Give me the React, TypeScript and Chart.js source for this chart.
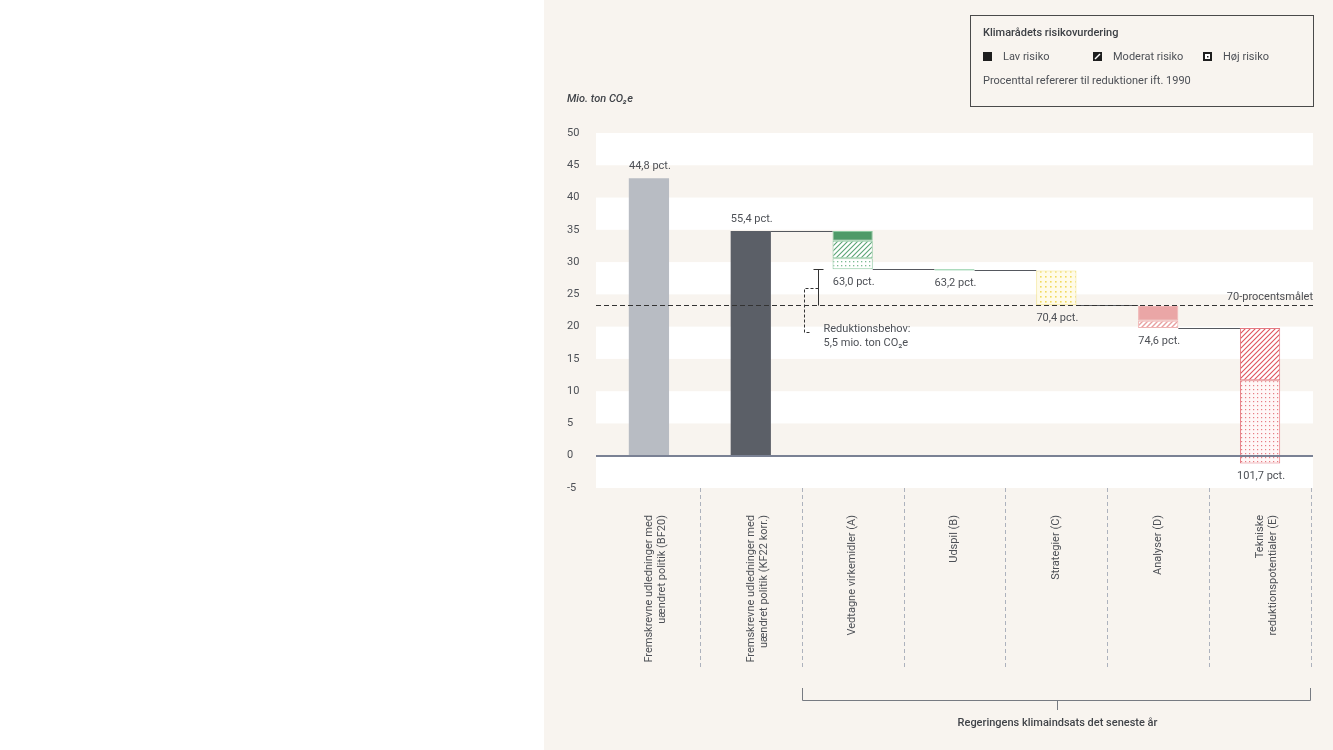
import React, { useEffect, useRef } from "react";
import { Chart, registerables } from "chart.js";

Chart.register(...registerables);

const categories: (string | string[])[] = [
  ["Fremskrevne udledninger med", "uændret politik (BF20)"],
  ["Fremskrevne udledninger med", "uændret politik (KF22 korr.)"],
  "Vedtagne virkemidler (A)",
  "Udspil (B)",
  "Strategier (C)",
  "Analyser (D)",
  ["Tekniske", "reduktionspotentialer (E)"],
];

// Projected emissions (baseline bars)
const baselineValues: (number | null)[] = [43.0, 34.8, null, null, null, null, null];
// Reduction segments [low, high] by risk level
const lowRisk: ([number, number] | null)[] = [null, null, [33.3, 34.8], [28.7, 28.9], null, [20.9, 23.2], null];
const moderateRisk: ([number, number] | null)[] = [null, null, [30.6, 33.3], null, null, [19.8, 20.9], [11.7, 19.8]];
const highRisk: ([number, number] | null)[] = [null, null, [28.9, 30.6], null, [23.3, 28.7], null, [-1.2, 11.7]];

const pctLabels = ["44,8 pct.", "55,4 pct.", "63,0 pct.", "63,2 pct.", "70,4 pct.", "74,6 pct.", "101,7 pct."];
const target70 = 23.4;
const targetLabel = "70-procentsmålet";
const reductionLabel = ["Reduktionsbehov:", "5,5 mio. ton CO₂e"];
const yMin = -5;
const yMax = 50;
const yStep = 5;
const yTitle = "Mio. ton CO₂e";
const bracketLabel = "Regeringens klimaindsats det seneste år";
const legendTitle = "Klimarådets risikovurdering";
const legendItems = ["Lav risiko", "Moderat risiko", "Høj risiko"];
const legendNote = "Procenttal refererer til reduktioner ift. 1990";

const FONT = "Roboto, 'Noto Sans', sans-serif";
const BAR_PCT = 0.395;
const TEXT = "#4d5056";

function hatch(bg: string, fg: string, size = 5, lw = 1.1) {
  const c = document.createElement("canvas");
  c.width = size;
  c.height = size;
  const g = c.getContext("2d")!;
  g.fillStyle = bg;
  g.fillRect(0, 0, size, size);
  g.strokeStyle = fg;
  g.lineWidth = lw;
  g.beginPath();
  g.moveTo(0, size);
  g.lineTo(size, 0);
  g.moveTo(-1, 1);
  g.lineTo(1, -1);
  g.moveTo(size - 1, size + 1);
  g.lineTo(size + 1, size - 1);
  g.stroke();
  return g.createPattern(c, "repeat")!;
}

function dots(bg: string, fg: string, size = 4, r = 1.3) {
  const c = document.createElement("canvas");
  c.width = size;
  c.height = size;
  const g = c.getContext("2d")!;
  g.fillStyle = bg;
  g.fillRect(0, 0, size, size);
  g.fillStyle = fg;
  g.fillRect(1, 1, r, r);
  return g.createPattern(c, "repeat")!;
}

function rangeOf(i: number): [number, number] {
  const vals: number[] = [];
  if (baselineValues[i] != null) vals.push(0, baselineValues[i] as number);
  [lowRisk, moderateRisk, highRisk].forEach((s) => {
    const v = s[i];
    if (v) vals.push(v[0], v[1]);
  });
  return [Math.min(...vals), Math.max(...vals)];
}

export default function App() {
  const ref = useRef<HTMLCanvasElement | null>(null);

  useEffect(() => {
    if (!ref.current) return;

    const green = "#4f9a68";
    const lowColors = [null, null, green, "#6cc08a", null, "#eaa6a6", null];
    const lowBorders = [null, null, "#8cc9a0", "#6cc08a", null, "#efb3b3", null];
    const modColors = [null, null, hatch("#ffffff", "#5aa474"), null, null, hatch("#ffffff", "#e9a0a0", 5, 1.4), hatch("#ffffff", "#e0525c")];
    const modBorders = [null, null, "#8cc9a0", null, null, "#efb3b3", "#e47a82"];
    const highColors = [null, null, dots("#ffffff", "#7cbb92"), null, dots("#fffbe8", "#f0da5c", 5, 1.6), null, dots("#fff7f7", "#e77c84", 4, 1.2)];
    const highBorders = [null, null, "#8cc9a0", null, "#f3e48a", null, "#e47a82"];

    const bandsPlugin = {
      id: "bands",
      beforeDraw(chart: any) {
        const { ctx, chartArea, scales } = chart;
        const y = scales.y;
        ctx.save();
        ctx.fillStyle = "#ffffff";
        let k = 0;
        for (let v = yMax; v > yMin; v -= yStep) {
          if (k % 2 === 0) {
            const t = y.getPixelForValue(v);
            const b = y.getPixelForValue(v - yStep);
            ctx.fillRect(chartArea.left - 2, t, chartArea.right - chartArea.left + 4, b - t);
          }
          k++;
        }
        ctx.restore();
      },
    };

    const overlayPlugin = {
      id: "overlay",
      afterDatasetsDraw(chart: any) {
        const { ctx, chartArea, scales } = chart;
        const x = scales.x;
        const y = scales.y;
        const catW = x.getPixelForValue(1) - x.getPixelForValue(0);
        const halfBar = (catW * BAR_PCT) / 2;
        const L = chartArea.left - 2;
        const R = chartArea.right + 2;
        ctx.save();

        // zero line
        ctx.strokeStyle = "#7a8194";
        ctx.lineWidth = 2;
        ctx.beginPath();
        ctx.moveTo(L, Math.round(y.getPixelForValue(0)));
        ctx.lineTo(R, Math.round(y.getPixelForValue(0)));
        ctx.stroke();

        // connectors
        ctx.strokeStyle = "#55585e";
        ctx.lineWidth = 1;
        for (let i = 1; i < categories.length - 1; i++) {
          const [lo, hi] = rangeOf(i);
          const level = baselineValues[i] != null ? hi : lo;
          const py = Math.round(y.getPixelForValue(level)) + 0.5;
          ctx.beginPath();
          ctx.moveTo(x.getPixelForValue(i) + halfBar, py);
          ctx.lineTo(x.getPixelForValue(i + 1) - halfBar, py);
          ctx.stroke();
        }

        // 70% target line
        const ty = Math.round(y.getPixelForValue(target70)) + 0.5;
        ctx.strokeStyle = "#333333";
        ctx.setLineDash([5, 3]);
        ctx.beginPath();
        ctx.moveTo(L, ty);
        ctx.lineTo(R, ty);
        ctx.stroke();
        ctx.setLineDash([]);
        ctx.font = `11px ${FONT}`;
        ctx.fillStyle = TEXT;
        ctx.textAlign = "right";
        ctx.textBaseline = "middle";
        ctx.fillText(targetLabel, R, ty - 8);

        // reduction need bracket (category A bottom to target)
        const aBottom = rangeOf(2)[0];
        const capX = Math.round(x.getPixelForValue(2) - halfBar - 15) + 0.5;
        const topY = Math.round(y.getPixelForValue(aBottom)) + 0.5;
        ctx.strokeStyle = "#333333";
        ctx.beginPath();
        ctx.moveTo(capX - 5, topY);
        ctx.lineTo(capX + 5, topY);
        ctx.moveTo(capX, topY);
        ctx.lineTo(capX, ty);
        ctx.stroke();
        const midY = Math.round((topY + ty) / 2) + 0.5;
        const bx = capX - 14;
        const labY = ty + 24;
        ctx.setLineDash([3, 2]);
        ctx.beginPath();
        ctx.moveTo(capX, midY);
        ctx.lineTo(bx, midY);
        ctx.lineTo(bx, labY + 3);
        ctx.lineTo(bx + 6, labY + 3);
        ctx.stroke();
        ctx.setLineDash([]);
        ctx.textAlign = "left";
        ctx.fillText(reductionLabel[0], bx + 19, labY);
        ctx.fillText(reductionLabel[1], bx + 19, labY + 14);

        // percentage labels
        ctx.textAlign = "center";
        for (let i = 0; i < categories.length; i++) {
          const [lo, hi] = rangeOf(i);
          const above = baselineValues[i] != null;
          const py = above ? y.getPixelForValue(hi) - 12 : y.getPixelForValue(lo) + 13;
          ctx.fillText(pctLabels[i], x.getPixelForValue(i) + 1, py);
        }

        // dividers below axis
        ctx.strokeStyle = "#adb2bd";
        ctx.setLineDash([4, 3]);
        for (let i = 0; i < categories.length; i++) {
          const dx = Math.round(x.getPixelForValue(i) + catW / 2) + 0.5;
          ctx.beginPath();
          ctx.moveTo(dx, chartArea.bottom);
          ctx.lineTo(dx, 670);
          ctx.stroke();
        }
        ctx.setLineDash([]);

        // bottom bracket over categories A-E
        const bl = Math.round(x.getPixelForValue(2) - catW / 2) + 0.5;
        const br = Math.round(x.getPixelForValue(6) + catW / 2) - 0.5;
        ctx.strokeStyle = "#777b82";
        ctx.beginPath();
        ctx.moveTo(bl, 688);
        ctx.lineTo(bl, 700.5);
        ctx.lineTo(br, 700.5);
        ctx.lineTo(br, 688);
        const bm = Math.round((bl + br) / 2) + 0.5;
        ctx.moveTo(bm, 700.5);
        ctx.lineTo(bm, 710);
        ctx.stroke();
        ctx.font = `500 11px ${FONT}`;
        ctx.fillStyle = "#414449";
        ctx.fillText(bracketLabel, bm, 723);

        // y-axis title
        ctx.font = `italic 500 11px ${FONT}`;
        ctx.textAlign = "left";
        ctx.fillStyle = "#414449";
        ctx.fillText(yTitle, 23, 99);

        // legend box
        const lx = 426.5, ly = 15.5, lw = 343, lh = 91;
        ctx.strokeStyle = "#4a4a4a";
        ctx.lineWidth = 1;
        ctx.strokeRect(lx, ly, lw, lh);
        ctx.font = `500 11px ${FONT}`;
        ctx.fillStyle = "#3d4045";
        ctx.fillText(legendTitle, 439, 33);
        ctx.font = `11px ${FONT}`;
        ctx.fillStyle = TEXT;
        const ix = [439, 549, 659];
        legendItems.forEach((t, k) => {
          ctx.fillText(t, ix[k] + 20, 57.5);
        });
        ctx.fillText(legendNote, 439, 81.5);
        // icons
        ctx.fillStyle = "#1e1e1e";
        ctx.fillRect(ix[0], 52, 9, 9);
        ctx.fillRect(ix[1], 52, 9, 9);
        ctx.strokeStyle = "#ffffff";
        ctx.lineWidth = 1.5;
        ctx.beginPath();
        ctx.moveTo(ix[1] + 2, 59);
        ctx.lineTo(ix[1] + 7, 54);
        ctx.stroke();
        ctx.fillStyle = "#1e1e1e";
        ctx.fillRect(ix[2], 52, 9, 9);
        ctx.fillStyle = "#ffffff";
        ctx.fillRect(ix[2] + 2, 54, 5, 5);
        ctx.fillStyle = "#1e1e1e";
        ctx.fillRect(ix[2] + 4, 56, 1.5, 1.5);

        ctx.restore();
      },
    };

    const common = {
      grouped: false,
      borderSkipped: false,
      categoryPercentage: 1,
      barPercentage: BAR_PCT,
    };

    const chart = new Chart(ref.current, {
      type: "bar",
      data: {
        labels: categories as any,
        datasets: [
          {
            ...common,
            label: "Fremskrevet",
            data: baselineValues as any,
            backgroundColor: ["#b8bcc3", "#5b5f67"],
            borderWidth: 0,
          },
          {
            ...common,
            label: legendItems[0],
            data: lowRisk as any,
            backgroundColor: lowColors as any,
            borderColor: lowBorders as any,
            borderWidth: 1,
          },
          {
            ...common,
            label: legendItems[1],
            data: moderateRisk as any,
            backgroundColor: modColors as any,
            borderColor: modBorders as any,
            borderWidth: 1,
          },
          {
            ...common,
            label: legendItems[2],
            data: highRisk as any,
            backgroundColor: highColors as any,
            borderColor: highBorders as any,
            borderWidth: 1,
          },
        ] as any,
      },
      options: {
        animation: false,
        responsive: false,
        maintainAspectRatio: false,
        layout: { padding: { left: 23, right: 22, top: 133, bottom: 0 } },
        plugins: {
          legend: { display: false },
          tooltip: { enabled: false },
        },
        scales: {
          x: {
            grid: { display: false, drawTicks: false },
            border: { display: false },
            ticks: {
              autoSkip: false,
              minRotation: 90,
              maxRotation: 90,
              padding: 27,
              color: TEXT,
              font: { family: FONT, size: 11, lineHeight: 1.2 },
            },
            afterFit: (s: any) => {
              s.height = 262;
            },
          },
          y: {
            min: yMin,
            max: yMax,
            grid: { display: false, drawTicks: false },
            border: { display: false },
            ticks: {
              stepSize: yStep,
              crossAlign: "far",
              color: TEXT,
              font: { family: FONT, size: 11 },
            },
            afterFit: (s: any) => {
              s.width = 31;
            },
          },
        },
      } as any,
      plugins: [bandsPlugin, overlayPlugin],
    });
    return () => chart.destroy();
  }, []);

  return (
    <div style={{ position: "fixed", left: 0, top: 0, width: 1333, height: 750, background: "#ffffff" }}>
      <div style={{ position: "absolute", left: 544, top: 0, width: 789, height: 750, background: "#f8f4ef" }}>
        <canvas ref={ref} width={789} height={750} style={{ display: "block", width: 789, height: 750 }} />
      </div>
    </div>
  );
}
